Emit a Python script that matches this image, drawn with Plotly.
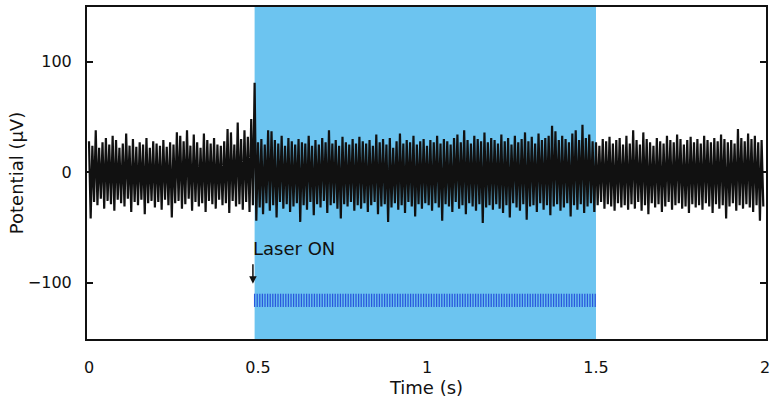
import plotly.graph_objects as go

# ---- data ----
bin_width = 0.01  # s, each bin holds one positive and one negative excursion
noise_hi = [
    28, 24, 38, 22, 27, 31, 25, 33, 29, 22, 26, 35, 24, 30, 23, 27, 25, 31, 22, 28,
    26, 24, 29, 23, 27, 25, 36, 33, 28, 38, 24, 34, 27, 22, 35, 29, 26, 31, 25, 24,
    28, 39, 36, 25, 45, 30, 38, 32, 48, 81, 27, 30, 25, 38, 37, 29, 26, 33, 24, 31,
    28, 25, 30, 27, 26, 33, 24, 29, 25, 31, 27, 38, 26, 29, 24, 32, 27, 25, 30, 26,
    32, 28, 26, 29, 24, 34, 27, 30, 25, 31, 22, 28, 35, 26, 29, 27, 33, 25, 28, 30,
    24, 29, 27, 33, 26, 30, 28, 25, 31, 34, 27, 38, 29, 26, 33, 30, 28, 36, 27, 31,
    29, 26, 34, 28, 31, 25, 33, 27, 30, 36, 28, 32, 26, 35, 29, 31, 33, 42, 37, 29,
    33, 30, 27, 35, 38, 29, 43, 31, 34, 28, 27, 24, 30, 28, 32, 26, 29, 31, 25, 33,
    26, 38, 29, 25, 36, 30, 27, 24, 31, 28, 26, 33, 29, 27, 34, 30, 25, 29, 32, 27,
    30, 26, 33, 29, 27, 31, 28, 34, 30, 27, 29, 26, 39, 31, 28, 35, 30, 33, 27, 29,
]
noise_lo = [
    -42, -27, -30, -24, -33, -26, -29, -35, -25, -28, -31, -24, -36, -27, -30, -25, -38, -28, -26, -32,
    -27, -34, -25, -30, -41, -28, -26, -33, -29, -24, -35, -27, -31, -28, -36, -26, -29, -33, -25, -30,
    -28, -37, -26, -31, -29, -34, -27, -36, -30, -44, -32, -38, -28, -35, -30, -41, -27, -33, -29, -36,
    -31, -28, -45, -30, -34, -27, -39, -29, -32, -26, -37, -30, -28, -33, -42, -29, -31, -27, -35, -30,
    -33, -28, -36, -30, -27, -38, -31, -29, -45, -32, -28, -34, -30, -37, -27, -31, -40, -29, -33, -28,
    -30, -35, -28, -32, -44, -29, -31, -36, -27, -33, -30, -38, -28, -31, -35, -29, -46, -32, -30, -34,
    -29, -33, -37, -30, -41, -28, -32, -35, -29, -43, -31, -30, -36, -28, -34, -30, -39, -31, -29, -35,
    -32, -28, -40, -30, -34, -29, -37, -31, -28, -36, -30, -27, -33, -29, -31, -35, -28, -32, -30, -34,
    -29, -33, -27, -35, -30, -38, -28, -32, -29, -36, -31, -27, -34, -30, -28, -33, -31, -37, -29, -32,
    -30, -34, -28, -31, -37, -29, -33, -30, -42, -31, -28, -35, -30, -33, -29, -32, -36, -30, -44, -31,
]
laser_on = 0.49      # s
laser_off = 1.5      # s
pulse_rate = 130     # Hz
pulse_low = -122     # uV (marker row)
pulse_high = -110
x_ticks = [0, 0.5, 1, 1.5, 2]
x_tick_labels = ["0", "0.5", "1", "1.5", "2"]
y_ticks = [-100, 0, 100]
y_tick_labels = ["\u2212100", "0", "100"]

# ---- build traces ----
xs, ys = [], []
for i, (h, l) in enumerate(zip(noise_hi, noise_lo)):
    t0 = i * bin_width
    xs += [t0, t0 + bin_width / 2]
    ys += [h, l]

px, py = [], []
k = 0
while laser_on + k / pulse_rate <= laser_off:
    tp = laser_on + k / pulse_rate
    px += [tp, tp, None]
    py += [pulse_low, pulse_high, None]
    k += 1

fig = go.Figure()
fig.add_shape(type="rect", xref="x", yref="paper", x0=laser_on, x1=laser_off,
              y0=0, y1=1, fillcolor="#6cc4f0", line_width=0, layer="below")
fig.add_trace(go.Scatter(x=px, y=py, mode="lines",
                         line=dict(color="#2a58dc", width=1.3), hoverinfo="skip"))
fig.add_trace(go.Scatter(x=xs, y=ys, mode="lines",
                         line=dict(color="#111111", width=2.2), hoverinfo="skip"))

fig.add_annotation(x=laser_on - 0.012, y=-69, xref="x", yref="y", text="Laser ON",
                   showarrow=False, xanchor="left", yanchor="middle",
                   font=dict(family="DejaVu Sans", size=18, color="#111"))
fig.add_annotation(x=laser_on - 0.005, y=-101, xref="x", yref="y", text="",
                   showarrow=True, ax=0, ay=-21, arrowhead=2, arrowsize=1,
                   arrowwidth=1.5, arrowcolor="#111")

fig.update_layout(
    width=774, height=405, margin=dict(l=87, r=4, t=7, b=66),
    plot_bgcolor="white", paper_bgcolor="white", showlegend=False,
    font=dict(family="DejaVu Sans", size=16, color="#111"),
)
fig.update_xaxes(range=[-0.0059, 2.003], tickvals=x_ticks, ticktext=x_tick_labels,
                 ticks="", showline=True, linecolor="#111", linewidth=2, mirror=True,
                 showgrid=False, zeroline=False, ticklabelstandoff=13,
                 title=dict(text="Time (s)", font=dict(size=18), standoff=0))
fig.update_yaxes(range=[-151, 149.5], tickvals=y_ticks, ticktext=y_tick_labels,
                 ticks="inside", ticklen=6, tickwidth=2, tickcolor="#111",
                 showline=True, linecolor="#111", linewidth=2, mirror="ticks",
                 showgrid=False, zeroline=False, ticklabelstandoff=10,
                 title=dict(text="Potential (\u03bcV)", font=dict(size=18), standoff=0))

fig.write_html("out.html")
